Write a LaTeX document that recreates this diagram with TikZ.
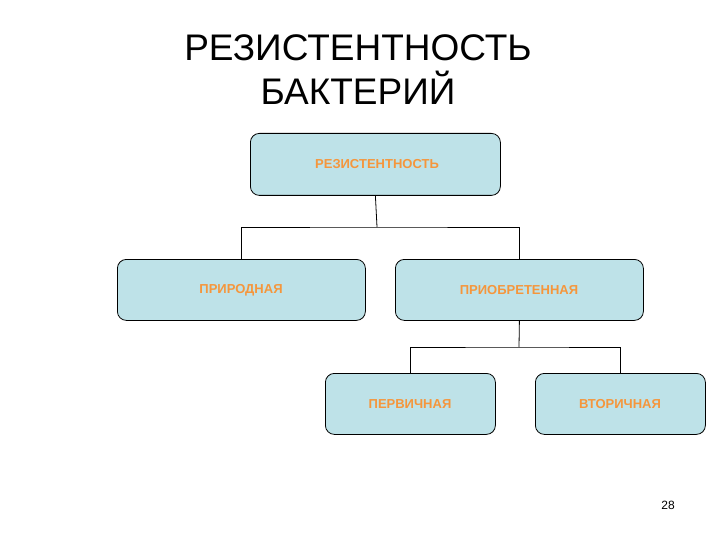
\documentclass[tikz,border=0pt]{standalone}
\usepackage{fontspec}
\setmainfont{Liberation Sans}
\begin{document}
\begin{tikzpicture}[x=1pt,y=-1pt,
  bx/.style={draw=black,fill={rgb,255:red,190;green,226;blue,232},rounded corners=9pt,line width=0.8pt,anchor=north west},
  lbl/.style={font=\bfseries\fontsize{13}{15}\selectfont,text={rgb,255:red,245;green,150;blue,60}},
  ln/.style={line width=0.8pt}]
\path[use as bounding box] (0,0) rectangle (720,540);
\node[font=\fontsize{37}{44}\selectfont,align=center] (title) at (358,70) {РЕЗИСТЕНТНОСТЬ\\БАКТЕРИЙ};
\node[bx,minimum width=250pt,minimum height=62pt] (r) at (250,133) {};
\node[bx,minimum width=248pt,minimum height=61pt] (p) at (117,259) {};
\node[bx,minimum width=248pt,minimum height=61pt] (a) at (395,259) {};
\node[bx,minimum width=170pt,minimum height=61pt] (f) at (325,373) {};
\node[bx,minimum width=170pt,minimum height=61pt] (s) at (535,373) {};
\node[lbl] (rt) at (377,164) {РЕЗИСТЕНТНОСТЬ};
\node[lbl] (pt) at (241,290) {ПРИРОДНАЯ};
\node[lbl] (at) at (519,290) {ПРИОБРЕТЕННАЯ};
\node[lbl] (ft) at (410,404) {ПЕРВИЧНАЯ};
\node[lbl] (st) at (620,404) {ВТОРИЧНАЯ};
\coordinate (j1) at (377,227);
\coordinate (j2) at (519,347);
\draw[ln] (r.south) -- (j1);
\draw[ln] (p.north) |- (j1) -| (a.north);
\draw[ln] (a.south) -- (j2);
\draw[ln] (f.north) |- (j2) -| (s.north);
\node[font=\fontsize{12}{14}\selectfont] (n) at (668,505) {28};
\end{tikzpicture}
\end{document}
